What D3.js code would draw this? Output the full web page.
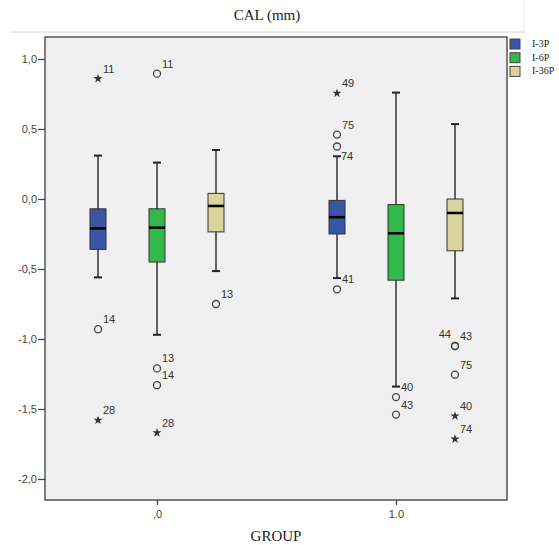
<!DOCTYPE html>
<html>
<head>
<meta charset="utf-8">
<script src="https://cdn.jsdelivr.net/npm/d3@7"></script>
<style>
  body { margin: 0; background: #fff; }
  svg { display: block; }
</style>
</head>
<body>
<div id="chart"></div>
<script>
// groups on the x axis and their tick labels
var groups = [0, 1];
var groupLabels = [",0", "1.0"];
var series = ["I-3P", "I-6P", "I-36P"];
var seriesColors = ["#3a55a6", "#33b94b", "#d9d39c"];

// box stats, one row per group, one entry per series
var whiskerHigh = [[0.31, 0.26, 0.35], [0.305, 0.76, 0.535]];
var q3 = [[-0.07, -0.07, 0.04], [-0.01, -0.04, 0.0]];
var median = [[-0.21, -0.205, -0.05], [-0.13, -0.245, -0.10]];
var q1 = [[-0.36, -0.45, -0.235], [-0.25, -0.58, -0.37]];
var whiskerLow = [[-0.56, -0.97, -0.515], [-0.565, -1.34, -0.71]];

// outliers: [group, series index, value, kind, case label]
var outliers = [
  [0, 0, 0.86, "star", "11"],
  [0, 0, -0.93, "circle", "14"],
  [0, 0, -1.58, "star", "28"],
  [0, 1, 0.895, "circle", "11"],
  [0, 1, -1.21, "circle", "13"],
  [0, 1, -1.33, "circle", "14"],
  [0, 1, -1.67, "star", "28"],
  [0, 2, -0.75, "circle", "13"],
  [1, 0, 0.755, "star", "49"],
  [1, 0, 0.46, "circle", "75"],
  [1, 0, 0.375, "circle", "74"],
  [1, 0, -0.645, "circle", "41"],
  [1, 1, -1.415, "circle", "40"],
  [1, 1, -1.54, "circle", "43"],
  [1, 2, -1.05, "circle", "43"],
  [1, 2, -1.05, "circle", "44"],
  [1, 2, -1.255, "circle", "75"],
  [1, 2, -1.55, "star", "40"],
  [1, 2, -1.715, "star", "74"]
];

var yTicks = [-2, -1.5, -1, -0.5, 0, 0.5, 1];

var width = 559, height = 545;
var frame = {left: 45, right: 507, top: 37, bottom: 500};

var svg = d3.select("#chart").append("svg")
  .attr("width", width)
  .attr("height", height);

var y = d3.scaleLinear().domain([-2.15, 1.157]).range([frame.bottom, frame.top]);
var x = d3.scaleLinear().domain([0, 1]).range([157, 396]);
var sub = d3.scaleBand().domain(d3.range(series.length)).range([-88.5, 88.5]);
var boxW = 16;

function cx(g, s) { return x(g) + sub(s) + sub.bandwidth() / 2; }

// faint separator lines like the original viewer
svg.append("line").attr("x1", 11).attr("x2", 525).attr("y1", 32).attr("y2", 32)
  .attr("stroke", "#d4d4d4");
svg.append("line").attr("x1", 524).attr("x2", 524).attr("y1", 0).attr("y2", 32)
  .attr("stroke", "#eeeeee");

// title
svg.append("text")
  .attr("x", 267).attr("y", 20)
  .attr("text-anchor", "middle")
  .style("font-family", "'Liberation Serif', 'Times New Roman', serif")
  .style("font-size", "15px")
  .attr("fill", "#222")
  .text("CAL (mm)");

// plot background + frame
svg.append("rect")
  .attr("x", frame.left).attr("y", frame.top)
  .attr("width", frame.right - frame.left).attr("height", frame.bottom - frame.top)
  .attr("fill", "#f0f0f0")
  .attr("stroke", "#555").attr("stroke-width", 1.5);

// axes (SPSS style: comma decimals, plain hyphen minus)
var yAxis = svg.append("g")
  .attr("transform", "translate(" + frame.left + ",0)")
  .call(d3.axisLeft(y).tickValues(yTicks).tickSize(7).tickPadding(1)
    .tickFormat(function(d) { return d.toFixed(1).replace(".", ","); }));
var xAxis = svg.append("g")
  .attr("transform", "translate(0," + frame.bottom + ")")
  .call(d3.axisBottom(x).tickValues(groups).tickSize(5).tickPadding(5)
    .tickFormat(function(d, i) { return groupLabels[i]; }));

[yAxis, xAxis].forEach(function(ax) {
  ax.select(".domain").remove();
  ax.selectAll(".tick line").attr("stroke", "#444").attr("stroke-width", 1.3);
  ax.selectAll(".tick text")
    .style("font-family", "'Liberation Sans', Arial, sans-serif")
    .style("font-size", "11px")
    .attr("fill", "#444");
});

svg.append("text")
  .attr("x", 276).attr("y", 541)
  .attr("text-anchor", "middle")
  .style("font-family", "'Liberation Serif', 'Times New Roman', serif")
  .style("font-size", "15px")
  .attr("fill", "#222")
  .text("GROUP");

// boxes
var boxes = [];
groups.forEach(function(g, gi) {
  series.forEach(function(s, si) {
    boxes.push({g: g, gi: gi, si: si});
  });
});

var bx = svg.append("g").selectAll("g").data(boxes).enter().append("g");

bx.append("line")
  .attr("x1", function(d) { return cx(d.g, d.si); })
  .attr("x2", function(d) { return cx(d.g, d.si); })
  .attr("y1", function(d) { return y(whiskerHigh[d.gi][d.si]); })
  .attr("y2", function(d) { return y(whiskerLow[d.gi][d.si]); })
  .attr("stroke", "#333").attr("stroke-width", 1.5);

[whiskerHigh, whiskerLow].forEach(function(arr) {
  bx.append("line")
    .attr("x1", function(d) { return cx(d.g, d.si) - 4; })
    .attr("x2", function(d) { return cx(d.g, d.si) + 4; })
    .attr("y1", function(d) { return y(arr[d.gi][d.si]); })
    .attr("y2", function(d) { return y(arr[d.gi][d.si]); })
    .attr("stroke", "#222").attr("stroke-width", 2);
});

bx.append("rect")
  .attr("x", function(d) { return cx(d.g, d.si) - boxW / 2; })
  .attr("width", boxW)
  .attr("y", function(d) { return y(q3[d.gi][d.si]); })
  .attr("height", function(d) { return y(q1[d.gi][d.si]) - y(q3[d.gi][d.si]); })
  .attr("fill", function(d) { return seriesColors[d.si]; })
  .attr("stroke", "#333").attr("stroke-width", 1);

bx.append("line")
  .attr("x1", function(d) { return cx(d.g, d.si) - boxW / 2; })
  .attr("x2", function(d) { return cx(d.g, d.si) + boxW / 2; })
  .attr("y1", function(d) { return y(median[d.gi][d.si]); })
  .attr("y2", function(d) { return y(median[d.gi][d.si]); })
  .attr("stroke", "#000").attr("stroke-width", 2.5);

// outliers
var star = d3.symbol().type(d3.symbolStar).size(26);
var og = svg.append("g").selectAll("g").data(outliers).enter().append("g")
  .attr("transform", function(d) { return "translate(" + cx(d[0], d[1]) + "," + y(d[2]) + ")"; });

og.filter(function(d) { return d[3] === "circle"; })
  .append("circle").attr("r", 3.5)
  .attr("fill", "none").attr("stroke", "#444").attr("stroke-width", 1.3);
og.filter(function(d) { return d[3] === "star"; })
  .append("path").attr("d", star).attr("fill", "#333");

// label nudges where SPSS moved a label to avoid a clash
var labelNudge = {"1-0-74": {dx: 4, dy: 14}, "1-2-44": {dx: -4, dy: -8, anchor: "end"}};
og.append("text")
  .each(function(d) {
    var n = labelNudge[d[0] + "-" + d[1] + "-" + d[4]] || {dx: 5, dy: -6};
    d3.select(this).attr("x", n.dx).attr("y", n.dy).attr("text-anchor", n.anchor || "start");
  })
  .style("font-family", "'Liberation Sans', Arial, sans-serif")
  .style("font-size", "11px")
  .attr("fill", "#333")
  .text(function(d) { return d[4]; });

// legend
var lg = svg.append("g").selectAll("g").data(series).enter().append("g")
  .attr("transform", function(d, i) { return "translate(510," + (39 + i * 13.7) + ")"; });
lg.append("rect").attr("width", 10).attr("height", 10)
  .attr("fill", function(d, i) { return seriesColors[i]; })
  .attr("stroke", "#444").attr("stroke-width", 1);
lg.append("text").attr("x", 22).attr("y", 8)
  .style("font-family", "'Liberation Serif', 'Times New Roman', serif")
  .style("font-size", "10px")
  .attr("fill", "#222")
  .text(function(d) { return d; });
</script>
</body>
</html>
